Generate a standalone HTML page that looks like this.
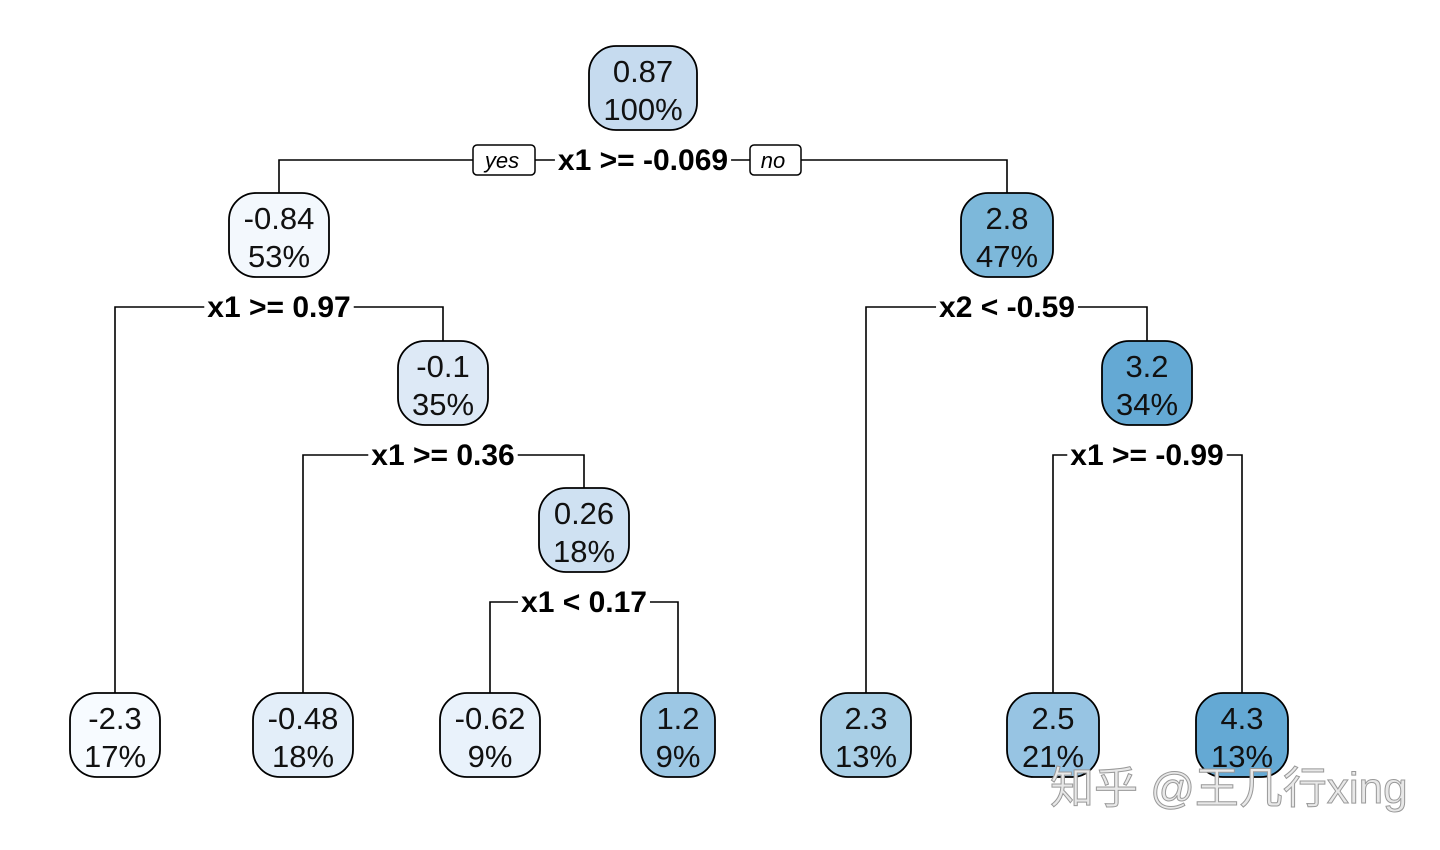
<!DOCTYPE html>
<html><head><meta charset="utf-8"><style>
html,body{margin:0;padding:0;background:#fff;width:1440px;height:850px;overflow:hidden}
svg{display:block}
text{font-family:"Liberation Sans","Noto Sans CJK SC",sans-serif}
</style></head><body>
<svg id="tree" width="1440" height="850" viewBox="0 0 1440 850" xmlns="http://www.w3.org/2000/svg"></svg>
<script>
// node data
const nodeIds   = ['root','n2','n3','n4','n5','n6','l1','l2','l3','l4','l5','l6','l7'];
const nodeVals  = ['0.87','-0.84','2.8','-0.1','3.2','0.26','-2.3','-0.48','-0.62','1.2','2.3','2.5','4.3'];
const nodePcts  = ['100%','53%','47%','35%','34%','18%','17%','18%','9%','9%','13%','21%','13%'];
const nodeFills = ['#c6dbef','#f3f8fd','#7db8da','#dde9f6','#64a9d4','#cfe1f2','#f7fbff','#e3eef9','#e9f2fb','#9cc7e4','#a9cfe6','#97c4e3','#64a9d4'];
// splits: parent, left child, right child, label
const splitParent = ['root','n2','n3','n4','n5','n6'];
const splitLeft   = ['n2','l1','l5','l2','l6','l3'];
const splitRight  = ['n3','n4','n5','n6','l7','l4'];
const splitLabels = ['x1 >= -0.069','x1 >= 0.97','x2 < -0.59','x1 >= 0.36','x1 >= -0.99','x1 < 0.17'];

// layout (positions, not data)
const pos = {
 root:[643,46,108], n2:[279,193,100], n3:[1007,193,92], n4:[443,341,90], n5:[1147,341,90],
 n6:[584,488,90], l1:[115,693,90], l2:[303,693,100], l3:[490,693,100], l4:[678,693,74],
 l5:[866,693,90], l6:[1053,693,92], l7:[1242,693,92]
};
const H=84;
const svg=document.getElementById('tree');
const NS='http://www.w3.org/2000/svg';
function mk(tag,attrs,parent){const e=document.createElementNS(NS,tag);for(const k in attrs)e.setAttribute(k,attrs[k]);(parent||svg).appendChild(e);return e;}

// edges
splitParent.forEach((p,i)=>{
  const y=pos[p][1]+H+30;
  const L=pos[splitLeft[i]], R=pos[splitRight[i]];
  const path=mk('path',{d:`M${L[0]},${L[1]} V${y} H${R[0]} V${R[1]}`,fill:'none',stroke:'#000','stroke-width':1.6});
  
  
});
// split labels
splitParent.forEach((p,i)=>{
  const x=pos[p][0], y=pos[p][1]+H+30;
  const g=mk('g',{});
  
  
  const t=mk('text',{x:x,y:y+10,'text-anchor':'middle','font-size':30,'font-weight':'bold',fill:'#000'},g);
  t.textContent=splitLabels[i];
  const w=t.getComputedTextLength();
  const bg=mk('rect',{x:x-w/2-3,y:y-16,width:w+6,height:32,fill:'#fff'});
  g.insertBefore(bg,t);
  if(i===0){
    const yes=mk('g',{},g);
    
    
    mk('rect',{x:473,y:145,width:62,height:30,rx:4,fill:'#fff',stroke:'#000','stroke-width':1.5},yes);
    const ty=mk('text',{x:502,y:168,'text-anchor':'middle','font-size':22,'font-style':'italic'},yes);ty.textContent='yes';
    const no=mk('g',{},g);
    
    
    mk('rect',{x:750,y:145,width:51,height:30,rx:4,fill:'#fff',stroke:'#000','stroke-width':1.5},no);
    const tn=mk('text',{x:773,y:168,'text-anchor':'middle','font-size':22,'font-style':'italic'},no);tn.textContent='no';
  }
});
// nodes
nodeIds.forEach((id,i)=>{
  const [cx,top,w]=pos[id];
  const g=mk('g',{});
  
  
  mk('rect',{x:cx-w/2,y:top,width:w,height:H,rx:27,ry:27,fill:nodeFills[i],stroke:'#000','stroke-width':1.8},g);
  const t1=mk('text',{x:cx,y:top+36,'text-anchor':'middle','font-size':31,fill:'#111'},g);t1.textContent=nodeVals[i];
  const t2=mk('text',{x:cx,y:top+74,'text-anchor':'middle','font-size':31,fill:'#111'},g);t2.textContent=nodePcts[i];
});
// watermark
const wm=mk('text',{x:1050,y:803,'font-size':44,fill:'#e8e8e8',stroke:'#999','stroke-width':1});


wm.textContent='知乎 @王几行xing';
</script>
</body></html>
